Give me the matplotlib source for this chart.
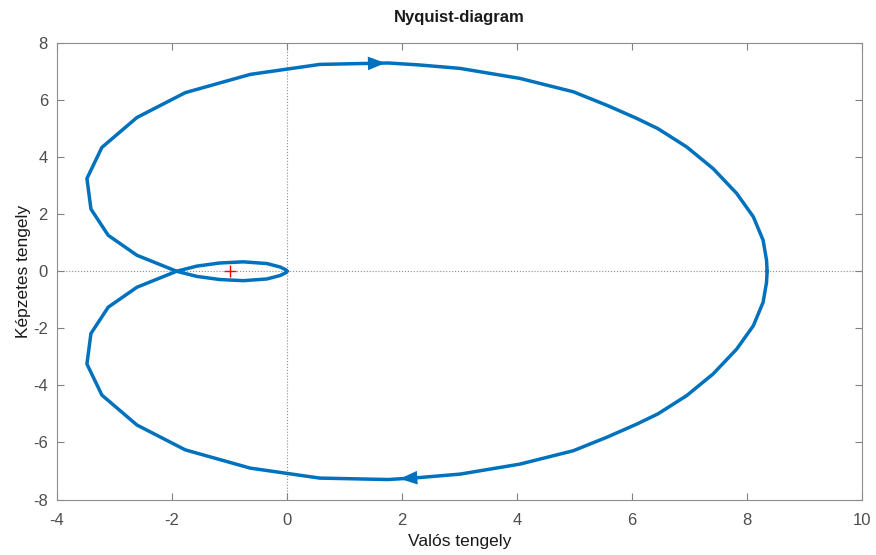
import numpy as np
import matplotlib
matplotlib.use('Agg')
from matplotlib import pyplot as plt

# positive-frequency branch of G(jw) (w = 0 -> inf)
re_pos = [8.35, 8.34, 8.28, 8.11, 7.82, 7.41, 6.95, 6.45, 6.08, 5.56, 4.98, 4.05, 3.01,
          2.31, 1.76, 0.57, -0.64, -1.77, -2.61, -3.22, -3.48, -3.41, -3.11, -2.61, -1.92,
          -1.57, -1.17, -0.76, -0.35, -0.12, -0.02, 0.0]
im_pos = [0.0, -0.39, -1.09, -1.91, -2.73, -3.60, -4.36, -5.00, -5.36, -5.82, -6.29, -6.76, -7.11,
          -7.23, -7.30, -7.25, -6.90, -6.26, -5.39, -4.34, -3.25, -2.18, -1.26, -0.56, 0.0,
          0.18, 0.29, 0.33, 0.27, 0.15, 0.05, 0.0]
critical_point = (-1, 0)

title_txt = 'Nyquist-diagram'
xlabel_txt = 'Valós tengely'
ylabel_txt = 'Képzetes tengely'
xticks = [-4, -2, 0, 2, 4, 6, 8, 10]
yticks = [-8, -6, -4, -2, 0, 2, 4, 6, 8]

plt.rcParams['font.family'] = ['Liberation Sans', 'DejaVu Sans']
plt.rcParams['axes.unicode_minus'] = False

re_pos = np.asarray(re_pos)
im_pos = np.asarray(im_pos)
# negative-frequency branch is the mirror image, traversed the other way
re_neg = re_pos[::-1]
im_neg = -im_pos[::-1]

blue = '#0072BD'
fig = plt.figure(figsize=(8.76, 5.55), dpi=100)
ax = fig.add_axes([0.0651, 0.1, 0.9189, 0.8225])

ax.axhline(0, color='#8c8c8c', lw=0.8, ls=':', zorder=1)
ax.axvline(0, color='#8c8c8c', lw=0.8, ls=':', zorder=1)

ax.plot(re_pos, im_pos, color=blue, lw=2.5, solid_joinstyle='round', zorder=3)
ax.plot(re_neg, im_neg, color=blue, lw=2.5, solid_joinstyle='round', zorder=3)

def myArrow(xs, ys, i, frac=1.0):
    # arrow head on segment i-1 -> i, tip at fraction frac along it
    x0, y0 = xs[i - 1], ys[i - 1]
    x1, y1 = xs[i], ys[i]
    tx = x0 + frac * (x1 - x0)
    ty = y0 + frac * (y1 - y0)
    d = np.hypot(x1 - x0, y1 - y0)
    bx = tx - 0.3 * (x1 - x0) / d
    by = ty - 0.3 * (y1 - y0) / d
    ax.annotate('', xy=(tx, ty), xytext=(bx, by),
                arrowprops=dict(arrowstyle='-|>,head_length=0.9,head_width=0.35',
                                color=blue, lw=0, mutation_scale=14), zorder=4)

# positive branch: arrow on lower half pointing left
myArrow(re_pos, im_pos, 14, 0.72)
# negative branch: arrow on upper half pointing right
n = len(re_neg)
myArrow(re_neg, im_neg, n - 15, 1.0)

ax.plot(critical_point[0], critical_point[1], '+', color='red', ms=9, mew=1.0, zorder=5)

ax.set_xlim(-4, 10)
ax.set_ylim(-8, 8)
ax.set_xticks(xticks)
ax.set_yticks(yticks)
ax.tick_params(direction='in', length=5, width=0.8, top=True, right=True,
               colors='#808080', labelcolor='#4d4d4d', labelsize=12)
ax.tick_params(axis='x', pad=10)
ax.tick_params(axis='y', pad=6.5)
for s in ax.spines.values():
    s.set_color('#8c8c8c')
    s.set_linewidth(0.8)

ax.set_title(title_txt, fontsize=12, fontweight='bold', color='#1a1a1a', pad=15)
ax.set_xlabel(xlabel_txt, fontsize=12.5, color='#1a1a1a', labelpad=4)
ax.set_ylabel(ylabel_txt, fontsize=12.5, color='#1a1a1a', labelpad=1.5)

fig.savefig('out.png', dpi=100)
